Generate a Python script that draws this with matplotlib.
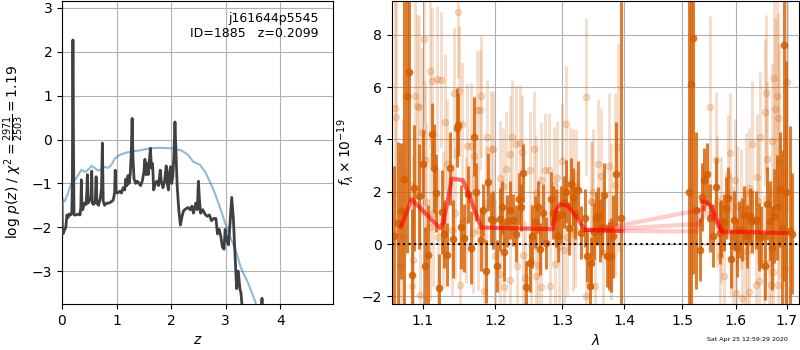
import numpy as np
import matplotlib
matplotlib.use("Agg")
import matplotlib.pyplot as plt
from matplotlib.ticker import NullLocator

# ---- left panel: redshift probability ----
pz_z = [0.000, 0.008, 0.02, 0.04, 0.07, 0.09, 0.11, 0.13, 0.16, 0.18, 0.19, 0.20, 0.21, 0.22,
        0.26, 0.30, 0.33, 0.345, 0.355, 0.365, 0.38, 0.41, 0.44, 0.455, 0.465, 0.475, 0.50,
        0.53, 0.545, 0.555, 0.58, 0.61, 0.625, 0.64, 0.67, 0.70, 0.725, 0.74, 0.755, 0.78,
        0.82, 0.86, 0.90, 0.94, 0.965, 0.975, 0.99, 1.02, 1.06, 1.09, 1.12, 1.15, 1.17, 1.19,
        1.21, 1.23, 1.25, 1.27, 1.285, 1.30, 1.32, 1.35, 1.38, 1.41, 1.44, 1.47, 1.50, 1.52,
        1.54, 1.56, 1.58, 1.60, 1.62, 1.64, 1.66, 1.68, 1.71, 1.74, 1.77, 1.80, 1.82, 1.85,
        1.88, 1.91, 1.93, 1.95, 1.97, 1.99, 2.01, 2.03, 2.05, 2.07, 2.09, 2.11, 2.14, 2.17,
        2.20, 2.23, 2.27, 2.31, 2.35, 2.38, 2.41, 2.45, 2.48, 2.50, 2.52, 2.54, 2.58, 2.62,
        2.66, 2.70, 2.74, 2.78, 2.82, 2.85, 2.88, 2.91, 2.94, 2.97, 2.99, 3.02, 3.05, 3.08,
        3.11, 3.14, 3.17, 3.20, 3.23, 3.26, 3.28, 3.31, 3.35, 3.50, 3.64, 3.665, 3.68, 3.75,
        4.00, 4.97]
pz_logp = [-1.40, -2.10, -2.15, -2.08, -2.00, -1.72, -1.78, -1.70, -1.72, -1.65, -1.00, 2.27, 0.00, -1.72,
           -1.72, -1.70, -1.72, -1.55, -0.92, -1.55, -1.60, -1.45, -1.48, -1.20, -0.80, -1.45, -1.40,
           -1.30, -0.72, -1.45, -1.48, -1.40, -0.85, -1.45, -1.50, -1.35, -1.10, -0.08, -1.40, -1.50,
           -1.45, -1.45, -1.42, -1.38, -1.20, -0.70, -1.20, -1.22, -1.18, -1.22, -1.10, -1.15, -0.90, -1.05,
           -0.82, -1.00, -0.80, -0.30, 0.48, -0.40, -0.90, -1.00, -0.95, -1.00, -1.05, -0.95, -0.75, -0.45,
           -0.80, -0.55, -0.80, -0.50, -0.20, -0.65, -0.55, -1.15, -1.00, -0.95, -1.05, -0.70, -0.95, -1.10,
           -0.95, -0.60, -1.00, -1.15, -0.75, -0.62, -1.00, -0.85, -0.40, 0.40, -0.30, -1.05, -1.60, -1.95,
           -1.75, -1.62, -1.58, -1.55, -1.60, -1.52, -1.68, -1.45, -1.60, -0.95, -1.40, -1.68, -1.60, -1.70,
           -1.75, -1.72, -1.85, -1.80, -1.80, -2.15, -2.05, -2.20, -2.45, -2.50, -2.05, -2.30, -2.40, -1.90,
           -1.32, -1.80, -2.60, -3.40, -3.00, -3.40, -3.50, -3.95, -4.50, -4.60, -4.20, -3.62, -4.00, -4.80,
           -6.00, -8.00]

prior_z = [0.00, 0.05, 0.11, 0.17, 0.26, 0.355, 0.42, 0.48, 0.54, 0.60, 0.66, 0.72, 0.78, 0.84,
           0.905, 0.97, 1.06, 1.15, 1.27, 1.42, 1.61, 1.79, 2.01, 2.19, 2.31, 2.40, 2.53, 2.62,
           2.71, 2.80, 2.89, 2.98, 3.08, 3.20, 3.27, 3.32, 3.41, 3.54, 3.60, 4.00]
prior_logp = [-1.34, -1.41, -1.22, -1.00, -0.88, -0.69, -0.74, -0.69, -0.60, -0.65, -0.71, -0.68, -0.62, -0.65,
              -0.58, -0.43, -0.35, -0.31, -0.27, -0.25, -0.20, -0.19, -0.20, -0.25, -0.35, -0.50, -0.58, -0.73,
              -0.96, -1.22, -1.53, -1.87, -2.21, -2.59, -2.89, -3.04, -3.27, -3.69, -4.00, -5.50]

# ---- right panel: spectrum (flux x 1e-19) ----
# dark points
lam_a = [1.0625, 1.0685, 1.072, 1.076, 1.079, 1.082, 1.086, 1.089, 1.0955, 1.101, 1.103, 1.107,
         1.112, 1.115, 1.118, 1.122, 1.126, 1.129, 1.132, 1.1365, 1.141, 1.146, 1.148, 1.152,
         1.156, 1.161, 1.166, 1.170, 1.173, 1.179, 1.183, 1.186, 1.189, 1.193, 1.196, 1.202,
         1.206, 1.209, 1.213, 1.217, 1.221, 1.226, 1.230, 1.234, 1.237, 1.241, 1.245, 1.250,
         1.254, 1.258, 1.262, 1.266, 1.270, 1.275, 1.282, 1.286, 1.290, 1.294, 1.298, 1.302,
         1.306, 1.310, 1.313, 1.317, 1.320, 1.325, 1.330, 1.335, 1.339, 1.343, 1.346, 1.350,
         1.354, 1.357, 1.360, 1.363, 1.367, 1.371, 1.375, 1.378, 1.382, 1.386, 1.394,
         1.512, 1.516, 1.520, 1.525, 1.5325, 1.537, 1.541, 1.545, 1.551, 1.556, 1.562, 1.569,
         1.572, 1.578, 1.582, 1.585, 1.590, 1.596, 1.602, 1.606, 1.611, 1.616, 1.622, 1.627,
         1.632, 1.638, 1.644, 1.648, 1.656, 1.661, 1.666, 1.670, 1.675, 1.680, 1.687, 1.690,
         1.694, 1.699, 1.706, 1.712]
flux_a = [0.3, 0.8, 1.27, 2.5, 5.64, 6.59, -1.17, 2.14, 1.82, 3.05, -0.85, -0.41,
          4.2, 2.9, 1.95, -1.68, 1.23, 0.4, -0.41, 2.9, 0.19, 4.45, 4.55, 0.64,
          0.23, 1.9, -0.14, 4.1, 2.0, 0.17, 1.3, -1.04, 2.38, 0.95, 0.93, -0.85,
          0.95, 1.4, -0.3, 0.89, 1.3, 0.93, 0.4, 1.72, 1.4, 2.71, -1.64, -0.73,
          0.3, 0.84, 1.41, -0.2, 1.18, 0.04, 1.74, 1.2, 0.99, 0.3, 1.12, 1.6,
          2.0, 0.6, 2.3, 1.8, 1.18, 2.07, 0.44, 1.0, -0.45, -1.62, -0.73, 0.48,
          0.99, 1.08, 0.51, 0.67, 1.88, -0.45, -0.45, -0.45, 0.29, 2.68, 1.0,
          2.0, 6.1, 7.86, 1.3, -0.22, 1.8, 2.46, 2.68, 1.0, 0.32, 2.17, 0.42,
          0.6, 0.83, 1.38, 1.76, -0.56, 0.93, -0.15, 0.55, 0.55, 1.12, 0.29, 1.06,
          0.87, 0.93, 0.27, 0.27, -0.85, 1.54, 0.9, -0.15, 1.08, 1.4, 2.07, 0.6,
          7.6, 2.0, 0.5, 0.4]
err_a = [2.7, 3.1, 2.6, 9.0, 6.0, 5.0, 2.5, 2.4, 2.0, 1.3, 1.5, 1.9,
         1.2, 1.7, 1.5, 1.3, 1.6, 1.3, 1.2, 1.4, 1.5, 1.5, 1.2, 1.6,
         1.3, 1.1, 1.4, 1.5, 1.1, 1.2, 1.0, 1.2, 1.1, 1.0, 1.1, 1.0,
         1.2, 1.0, 1.1, 1.0, 1.1, 1.0, 1.1, 1.0, 0.9, 1.1, 1.0, 1.1,
         1.2, 1.0, 1.0, 1.0, 1.1, 1.0, 1.0, 1.0, 1.1, 1.0, 1.1, 1.0,
         1.2, 1.0, 1.0, 1.1, 1.0, 1.1, 1.0, 1.1, 1.0, 1.0, 1.0, 1.1,
         1.0, 1.1, 1.2, 1.1, 1.2, 1.2, 1.3, 1.4, 1.6, 2.0, 12.0,
         12.0, 12.0, 9.0, 3.0, 1.2, 1.3, 1.2, 1.2, 1.3, 1.2, 1.1, 1.2,
         1.1, 1.1, 1.2, 1.2, 1.1, 1.1, 1.1, 1.1, 1.2, 1.1, 1.2, 1.1,
         1.2, 1.1, 1.3, 1.2, 1.3, 1.4, 1.5, 1.6, 1.8, 2.0, 2.2, 3.0,
         9.0, 5.0, 4.0, 2.3]

# light points
lam_b = [1.0642, 1.0654, 1.0705, 1.074, 1.086, 1.087, 1.090, 1.092, 1.0955, 1.0964, 1.099, 1.102,
         1.103, 1.105, 1.1096, 1.110, 1.113, 1.114, 1.1186, 1.1205, 1.124, 1.127, 1.1296, 1.133,
         1.139, 1.142, 1.143, 1.1478, 1.149, 1.150, 1.1525, 1.158, 1.160, 1.166, 1.168, 1.169,
         1.174, 1.175, 1.178, 1.180, 1.184, 1.187, 1.188, 1.194, 1.196, 1.200, 1.2064, 1.207,
         1.2105, 1.213, 1.215, 1.2209, 1.2213, 1.2245, 1.230, 1.231, 1.2356, 1.239, 1.240, 1.244,
         1.250, 1.252, 1.256, 1.259, 1.260, 1.262, 1.267, 1.268, 1.273, 1.279, 1.2806, 1.287,
         1.288, 1.291, 1.295, 1.299, 1.303, 1.305, 1.308, 1.3115, 1.316, 1.317, 1.3195, 1.322,
         1.337, 1.338, 1.346, 1.347, 1.349, 1.352, 1.3575, 1.361, 1.365, 1.375, 1.378, 1.385,
         1.389,
         1.552, 1.5625, 1.565, 1.5695, 1.571, 1.578, 1.585, 1.589, 1.591, 1.595, 1.598, 1.601,
         1.603, 1.6095, 1.611, 1.6175, 1.619, 1.621, 1.625, 1.626, 1.632, 1.638, 1.640, 1.6425,
         1.6445, 1.6476, 1.6555, 1.6575, 1.659, 1.661, 1.664, 1.669, 1.671, 1.672, 1.6755, 1.6775,
         1.681, 1.682, 1.683, 1.685, 1.696, 1.700]
flux_b = [5.19, 4.87, -0.85, 0.27, -1.62, -0.6, 5.66, 5.28, 5.23, -1.93, 4.3, 7.82,
          3.22, 1.6, 6.62, 0.67, 6.23, 1.18, 6.3, 0.27, 6.27, 0.93, 4.68, 3.05,
          0.55, 5.79, 1.18, 8.85, 5.85, -1.55, 4.57, 0.93, 3.75, 3.75, 0.42, 3.37,
          5.13, 0.55, 5.13, 5.64, -1.8, 1.56, 4.08, 3.63, 3.64, -0.47, -1.13, 2.52,
          2.23, -1.64, 2.86, -1.39, 3.45, 4.08, 3.83, -0.85, 3.88, 3.5, -0.41, -1.3,
          2.84, -0.66, 3.63, 1.95, -1.23, -0.79, -1.64, 2.46, 2.82, 2.82, -1.62, 2.26,
          -0.75, 2.52, -0.09, 3.19, -0.24, 4.59, 0.27, 2.26, 0.42, 2.2, 0.55, 2.2,
          5.62, -1.97, 1.63, 1.6, 2.0, -1.62, 3.05, 2.6, -0.34, 2.99, 0.87, 2.26,
          3.7,
          5.23, 3.22, 1.63, -0.47, 0.93, -1.21, 2.65, 3.47, 0.29, -0.11, 2.46, -1.87,
          1.44, 1.34, -2.06, -0.47, 1.95, -0.28, 2.14, -1.85, 3.82, -1.55, 2.58, 1.63,
          -1.43, 4.08, -0.73, 5.04, 5.76, 3.24, -0.73, -1.55, 3.92, -1.08, 6.34, 5.15,
          5.64, 4.81, -1.55, 3.15, -0.95, 6.2]
err_b = [5.0, 5.0, 4.5, 4.5, 4.0, 4.0, 4.0, 3.5, 3.5, 3.5, 3.2, 3.2,
         3.0, 3.0, 3.0, 2.8, 2.8, 2.8, 2.8, 2.6, 2.6, 2.6, 2.6, 2.5,
         2.5, 2.5, 2.5, 2.5, 2.5, 2.5, 2.4, 2.4, 2.4, 2.4, 2.3, 2.3,
         2.3, 2.3, 2.3, 2.3, 2.2, 2.2, 2.2, 2.2, 2.2, 2.2, 2.2, 2.2,
         2.2, 2.2, 2.2, 2.2, 2.2, 2.2, 2.2, 2.2, 2.2, 2.2, 2.2, 2.2,
         2.2, 2.2, 2.2, 2.2, 2.2, 2.2, 2.2, 2.2, 2.2, 2.2, 2.2, 2.2,
         2.2, 2.2, 2.2, 2.2, 2.2, 2.2, 2.2, 2.2, 2.2, 2.2, 2.2, 2.2,
         3.0, 2.3, 2.3, 2.3, 2.4, 2.4, 2.5, 2.6, 2.7, 2.8, 3.0, 3.5,
         4.0,
         3.5, 2.6, 2.5, 2.4, 2.4, 2.3, 2.3, 2.3, 2.3, 2.3, 2.3, 2.3,
         2.3, 2.3, 2.3, 2.3, 2.3, 2.3, 2.3, 2.3, 2.4, 2.4, 2.4, 2.4,
         2.5, 2.5, 2.6, 2.8, 3.0, 3.0, 3.0, 3.0, 3.0, 3.2, 3.5, 3.5,
         4.0, 4.0, 4.0, 4.5, 5.0, 5.0]

# best-fit model, one list per beam (blue side / red side of the gap)
model1_lam = [1.072, 1.0856, 1.1229, 1.128, 1.139, 1.154, 1.158, 1.180, 1.285, 1.290, 1.297,
              1.308, 1.320, 1.336, 1.395]
model1_flux = [0.67, 1.71, 0.61, 0.85, 2.50, 2.44, 2.20, 0.63, 0.57, 1.30, 1.52,
               1.47, 1.10, 0.54, 0.50]
model2_lam = [1.536, 1.545, 1.553, 1.573, 1.700]
model2_flux = [1.62, 1.60, 1.45, 0.48, 0.42]
# faint segments of the other beams that cross the gap
beam2_lam = [1.336, 1.365, 1.538, 1.548, 1.562, 1.575]
beam2_flux = [0.54, 0.58, 1.33, 1.45, 0.90, 0.45]
beam3_lam = [1.336, 1.365, 1.530, 1.545, 1.560, 1.575]
beam3_flux = [0.54, 0.55, 0.77, 1.20, 0.90, 0.45]
beam4_lam = [1.365, 1.395, 1.527, 1.536]
beam4_flux = [0.52, 0.50, 0.48, 1.40]

target = 'j161644p5545'
obj_id = 1885
z_best = 0.2099
chi2_num, chi2_den = 2971, 2503

g141 = (0.8352941, 0.3686274, 0.0)

fig = plt.figure(figsize=(8, 3.5), dpi=100)
ax1 = fig.add_axes([0.0775, 0.1314, 0.339, 0.866])
ax2 = fig.add_axes([0.4896, 0.1314, 0.5095, 0.866])

ax1.plot(pz_z, pz_logp, color='0.25', lw=2, zorder=3)
ax1.plot(prior_z, prior_logp, color='tab:blue', alpha=0.5, lw=1.5, zorder=2)
ax1.set_xlim(0, 4.97)
ax1.set_ylim(-3.75, 3.16)
ax1.set_xlabel(r'$z$')
ax1.set_ylabel(r'log $p(z)$ / $\chi^2=\frac{%d}{%d}=%.2f$' % (chi2_num, chi2_den, chi2_num / chi2_den))
ax1.text(0.945, 0.965, '%s\nID=%d   z=%.4f' % (target, obj_id, z_best),
         ha='right', va='top', transform=ax1.transAxes, fontsize=9)
ax1.grid()

ax2.errorbar(lam_b, flux_b, err_b, color=g141, alpha=0.2, marker='.', ms=9,
             linestyle='None', elinewidth=2.2)
ax2.errorbar(lam_a, flux_a, err_a, color=g141, alpha=0.8, marker='.', ms=9,
             linestyle='None', elinewidth=2.2)
for bl, bf in [(beam2_lam, beam2_flux), (beam3_lam, beam3_flux), (beam4_lam, beam4_flux)]:
    ax2.plot(bl, bf, color='r', alpha=0.2, lw=3, zorder=5)
ax2.plot(model1_lam, model1_flux, color='r', alpha=0.6, lw=3, zorder=5)
ax2.plot(model2_lam, model2_flux, color='r', alpha=0.6, lw=3, zorder=5)
ax2.axhline(0, color='k', linestyle=':', lw=1.5, zorder=6)

ax2.set_xscale('log')
ax2.set_xlim(1.060, 1.726)
ax2.set_ylim(-2.29, 9.29)
xt = [1.1, 1.2, 1.3, 1.4, 1.5, 1.6, 1.7]
ax2.set_xticks(xt)
ax2.set_xticklabels(['%.1f' % t for t in xt])
ax2.xaxis.set_minor_locator(NullLocator())
ax2.set_xlabel(r'$\lambda$')
ax2.set_ylabel(r'$f_\lambda \times 10^{-19}$')
ax2.grid()

fig.text(0.985, 0.022, 'Sat Apr 25 12:59:29 2020', ha='right', va='bottom', fontsize=4.5)

fig.savefig('out.png', dpi=100)
